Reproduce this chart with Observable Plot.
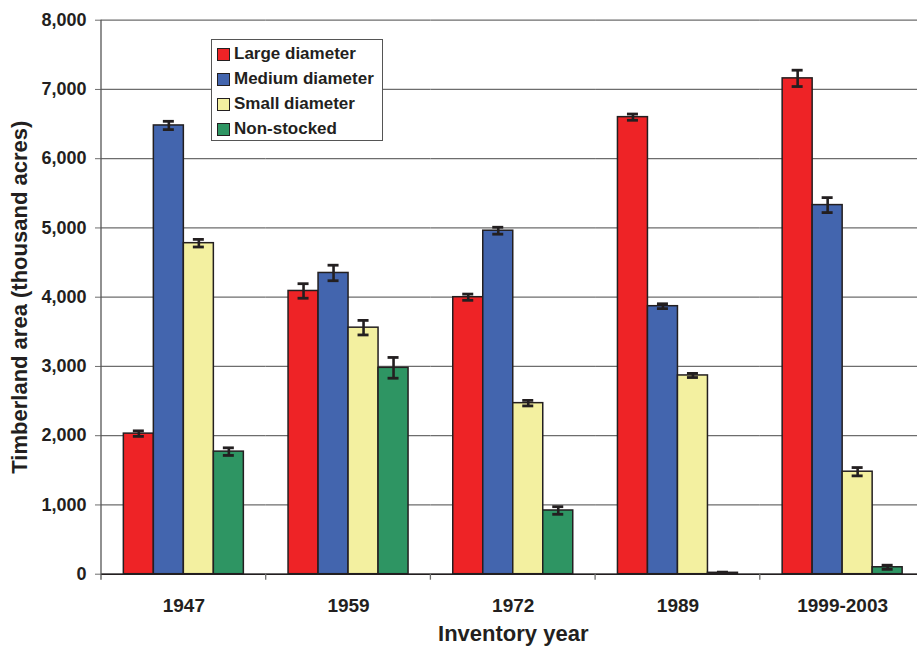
<!DOCTYPE html>
<html><head><meta charset="utf-8">
<script src="https://cdn.jsdelivr.net/npm/d3@7"></script>
<script src="https://cdn.jsdelivr.net/npm/@observablehq/plot@0.6"></script>
<style>
html,body{margin:0;padding:0;background:#fff;}
#wrap{position:relative;width:917px;height:650px;overflow:hidden;font-family:"Liberation Sans",Arial,sans-serif;color:#231f20;}
#wrap svg{display:block;max-width:none;}
.legend{position:absolute;left:211px;top:39px;width:172px;height:102px;border:1px solid #555;background:#fff;box-sizing:border-box;}
.legend .row{position:absolute;left:5px;height:25px;display:flex;align-items:center;font-weight:bold;font-size:17px;white-space:nowrap;}
.legend .sw{width:11px;height:11px;border:1.5px solid #231f20;margin-right:4px;flex:none;}
</style></head><body><div id="wrap"></div><script>
const years = ["1947", "1959", "1972", "1989", "1999-2003"];
const series = ["Large diameter", "Medium diameter", "Small diameter", "Non-stocked"];
const seriesColors = ["#ee2326", "#4365ae", "#f3f0a0", "#2e9563"];
const large = [2030, 4090, 4000, 6600, 7160];
const largeErr = [40, 105, 45, 45, 118];
const medium = [6480, 4350, 4960, 3870, 5330];
const mediumErr = [60, 112, 50, 35, 108];
const small = [4780, 3560, 2470, 2870, 1480];
const smallErr = [55, 105, 40, 30, 60];
const nonStocked = [1770, 2980, 920, 20, 100];
const nonStockedErr = [55, 150, 55, 10, 30];
const yTicks = [0, 1000, 2000, 3000, 4000, 5000, 6000, 7000, 8000];
const xTitle = "Inventory year";
const yTitle = "Timberland area (thousand acres)";

const valueSets = [large, medium, small, nonStocked];
const errSets = [largeErr, mediumErr, smallErr, nonStockedErr];
const data = [];
years.forEach((yr, i) => series.forEach((s, j) => {
  data.push({year: yr, series: s, value: valueSets[j][i], err: errSets[j][i]});
}));

const ink = "#231f20";
const fmt = d3.format(",");
const chart = Plot.plot({
  width: 917, height: 650,
  marginTop: 19.7, marginBottom: 76.3, marginLeft: 101, marginRight: -7.5,
  style: {fontFamily: '"Liberation Sans", Arial, sans-serif', color: ink, background: "#fff"},
  fx: {domain: years, padding: 0, round: false, label: null},
  x: {domain: series, paddingInner: 0, paddingOuter: 0.745, round: false, axis: null},
  y: {domain: [0, 8000], axis: null},
  color: {domain: series, range: seriesColors},
  marks: [
    Plot.gridY(yTicks, {stroke: "#6d6d6d", strokeOpacity: 1, strokeWidth: 1.2}),
    Plot.barY(data, {fx: "year", x: "series", y: "value", fill: "series", stroke: ink, strokeWidth: 1.5}),
    Plot.ruleX(data, {fx: "year", x: "series", y1: d => d.value - d.err, y2: d => d.value + d.err, stroke: ink, strokeWidth: 2.6}),
    Plot.tickY(data, {fx: "year", x: "series", y: d => d.value - d.err, insetLeft: 9.5, insetRight: 9.5, stroke: ink, strokeWidth: 2.8}),
    Plot.tickY(data, {fx: "year", x: "series", y: d => d.value + d.err, insetLeft: 9.5, insetRight: 9.5, stroke: ink, strokeWidth: 2.8}),
    Plot.ruleY([0], {stroke: ink, strokeWidth: 1.4}),
    Plot.axisY({ticks: yTicks, tickFormat: fmt, tickSize: 6, tickPadding: 9, fontSize: 18, fontWeight: "bold", stroke: "#6d6d6d", fill: ink, label: null}),
    Plot.axisFx({anchor: "bottom", tickSize: 0, tickPadding: 24, fontSize: 19, fontWeight: "bold", fill: ink, label: null}),
    Plot.text([xTitle], {facet: "super", frameAnchor: "bottom", dy: 60, lineAnchor: "middle", textAnchor: "middle", fontSize: 22, fontWeight: "bold", fill: ink}),
    Plot.text([yTitle], {facet: "super", frameAnchor: "left", dx: -82, rotate: -90, lineAnchor: "middle", textAnchor: "middle", fontSize: 22, fontWeight: "bold", fill: ink})
  ]
});

// axis line and category boundary ticks, placed through the chart's own scales
const fx = chart.scale("fx");
const ys = chart.scale("y");
const svg = d3.select(chart);
const y0 = ys.apply(0), yTop = ys.apply(8000);
const bounds = years.map(yr => fx.apply(yr)).concat([fx.apply(years[years.length - 1]) + fx.bandwidth]);
const g = svg.append("g").attr("stroke", "#6d6d6d").attr("stroke-width", 1.3);
g.append("line").attr("x1", bounds[0]).attr("x2", bounds[0]).attr("y1", yTop).attr("y2", y0 + 6).attr("stroke", "#555");
bounds.slice(1).forEach(b => g.append("line").attr("x1", b).attr("x2", b).attr("y1", y0).attr("y2", y0 + 6));

const wrap = document.getElementById("wrap");
wrap.appendChild(chart);

// legend
const leg = document.createElement("div");
leg.className = "legend";
series.forEach((s, j) => {
  const row = document.createElement("div");
  row.className = "row";
  row.style.top = (1.5 + j * 25) + "px";
  const sw = document.createElement("span");
  sw.className = "sw";
  sw.style.background = seriesColors[j];
  const t = document.createElement("span");
  t.textContent = s;
  row.appendChild(sw); row.appendChild(t);
  leg.appendChild(row);
});
wrap.appendChild(leg);
</script></body></html>
